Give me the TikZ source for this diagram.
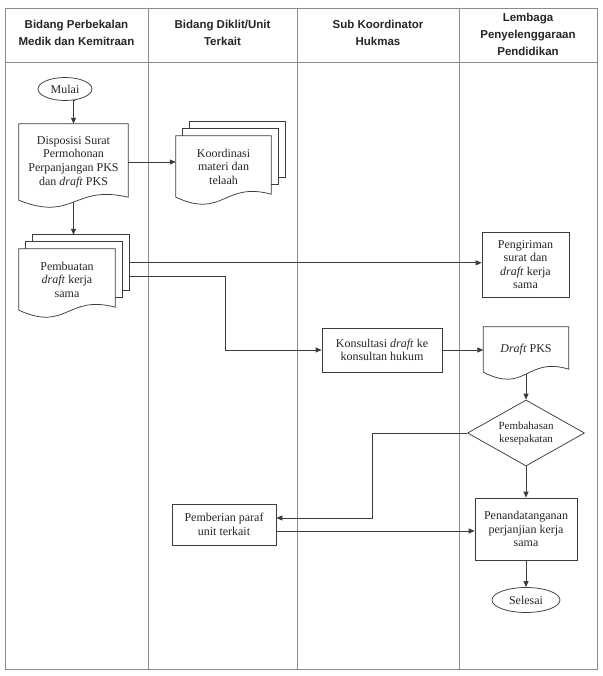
\documentclass[tikz,border=0pt]{standalone}
\usepackage{fontspec}
\setmainfont{Liberation Serif}
\newfontfamily\hdrfont{Liberation Sans}
\usetikzlibrary{arrows.meta,shapes.geometric,calc}
\definecolor{tablecol}{HTML}{8C8C8C}
\definecolor{linecol}{HTML}{3C3C3C}
\definecolor{textcol}{HTML}{262626}

\newcommand\docoutline[1]{%
  \draw[shp] ($(#1.south east)+(0,-3)$) -- (#1.north east) -- (#1.north west) -- (#1.south west)
    .. controls ($(#1.south)+(0,22)$) and ($(#1.south)+(0,-16)$) .. ($(#1.south east)+(0,-3)$) -- cycle;}
\newcommand\multidocpages[1]{%
  \draw[shp] ($(#1.north west)+(14,-7)$) -- ($(#1.north west)+(14,-14)$) -- ($(#1.north east)+(14,-14)$) -- ($(#1.south east)+(14,-20)$) -- ($(#1.south east)+(7,-20)$);
  \draw[shp] ($(#1.north west)+(7,0)$) -- ($(#1.north west)+(7,-7)$) -- ($(#1.north east)+(7,-7)$) -- ($(#1.south east)+(7,-13)$) -- ($(#1.south east)+(0,-13)$);}

\begin{document}
\begin{tikzpicture}[x=1pt,y=-1pt,
  every node/.style={text=textcol},
  tbl/.style={draw=tablecol, line width=0.6pt},
  shp/.style={draw=linecol, line width=0.75pt},
  arr/.style={draw=linecol, line width=0.75pt, -{Triangle[length=6pt,width=5pt]}},
  body/.style={font=\fontsize{12}{13.6}\selectfont, align=center, inner sep=0pt},
  hdr/.style={font=\hdrfont\bfseries\fontsize{11.5}{17}\selectfont, align=center, inner sep=0pt},
  boxn/.style={body, shp, rectangle},
  docn/.style={body, rectangle},
  term/.style={body, shp, ellipse},
  dec/.style={body, shp, diamond, font=\fontsize{11}{13}\selectfont, shape aspect=1.77}]

\fill[white] (0,0) rectangle (602,676);
\useasboundingbox (0,0) rectangle (602,676);

% table
\draw[tbl] (5,8) rectangle (597,669);
\draw[tbl] (5,62) -- (597,62);
\foreach \x in {148,297,459} \draw[tbl] (\x,8) -- (\x,669);

% headers
\node[hdr] (h1) at (76.5,33) {Bidang Perbekalan\\Medik dan Kemitraan};
\node[hdr] (h2) at (222.5,33) {Bidang Diklit/Unit\\Terkait};
\node[hdr] (h3) at (378,33) {Sub Koordinator\\Hukmas};
\node[hdr] (h4) at (528,34) {Lembaga\\Penyelenggaraan\\Pendidikan};

% nodes
\node[term, minimum width=54, minimum height=23] (mulai) at (65,89) {Mulai};
\node[docn, minimum width=109, minimum height=76] (disp) at (73.5,162) {Disposisi Surat\\Permohonan\\Perpanjangan PKS\\dan \textit{draft} PKS};
\docoutline{disp}
\node[docn, minimum width=96, minimum height=61] (pemb) at (67,279.5) {Pembuatan\\\textit{draft} kerja\\sama};
\docoutline{pemb}
\multidocpages{pemb}
\node[docn, minimum width=95, minimum height=61] (koord) at (223.5,166.5) {Koordinasi\\materi dan\\telaah};
\docoutline{koord}
\multidocpages{koord}
\node[boxn, minimum width=87, minimum height=65] (peng) at (525.5,264.5) {Pengiriman\\surat dan\\\textit{draft} kerja\\sama};
\node[boxn, minimum width=120, minimum height=44] (kons) at (382,350) {Konsultasi \textit{draft} ke\\konsultan hukum};
\node[docn, minimum width=85, minimum height=45] (draft) at (526,349.5) {\textit{Draft} PKS};
\docoutline{draft}
\node[dec, minimum width=117, minimum height=66] (dia) at (526,433) {Pembahasan\\kesepakatan};
\node[boxn, minimum width=104, minimum height=41] (parf) at (224,524.5) {Pemberian paraf\\unit terkait};
\node[boxn, minimum width=102, minimum height=62] (pen) at (526,529) {Penandatanganan\\perjanjian kerja\\sama};
\node[term, minimum width=68, minimum height=25] (sel) at (526,600) {Selesai};

% connectors
\coordinate (dispbot) at ($(disp.south)+(0,2)$);
\draw[arr] (mulai.-50) -- (mulai.-50 -| dispbot) -- (dispbot |- disp.north);
\coordinate (pembtop) at ($(pemb.north)+(0,-14)$);
\draw[arr] (dispbot) -- (dispbot |- pembtop);
\draw[arr] (disp.east) -- (disp.east -| koord.west);
\coordinate (po1) at ($(pemb.north east)+(14,14)$);
\coordinate (po2) at ($(pemb.north east)+(14,28)$);
\draw[arr] (po1) -- (po1 -| peng.west);
\coordinate (b1) at (225,300);
\draw[arr] (po2) -- (po2 -| b1) |- (kons.west);
\draw[arr] (kons.east) -- (kons.east -| draft.west);
\coordinate (draftbot) at ($(draft.south)+(0,2)$);
\draw[arr] (draftbot) -- (dia.north);
\coordinate (b2) at (372,480);
\draw[arr] (dia.west) -- (dia.west -| b2) |- ($(parf.east)+(0,-6.5)$);
\coordinate (pout) at ($(parf.east)+(0,6.5)$);
\draw[arr] (pout) -- (pout -| pen.west);
\draw[arr] (dia.south) -- (pen.north);
\draw[arr] (pen.south) -- (sel.north);
\end{tikzpicture}
\end{document}
